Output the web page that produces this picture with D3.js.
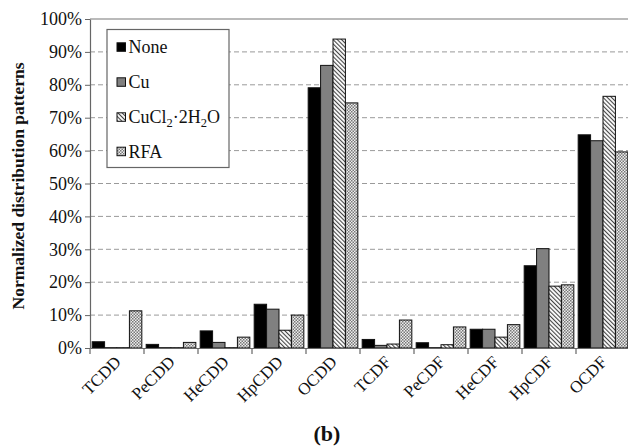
<!DOCTYPE html>
<html><head><meta charset="utf-8">
<script src="https://cdn.jsdelivr.net/npm/d3@7"></script>
<style>body{margin:0;background:#fff}svg{display:block}</style>
</head><body>
<svg id="c" width="628" height="446" font-family="Liberation Serif, Times New Roman, serif"></svg>
<script>
const categories = ["TCDD","PeCDD","HeCDD","HpCDD","OCDD","TCDF","PeCDF","HeCDF","HpCDF","OCDF"];
const seriesNames = ["None","Cu","CuCl2·2H2O","RFA"];
const noneVals  = [1.9, 1.1, 5.2, 13.3, 79.1, 2.6, 1.6, 5.7, 25.0, 64.8];
const cuVals    = [0.1, 0.1, 1.7, 11.8, 85.9, 0.8, 0.1, 5.7, 30.2, 63.0];
const cuclVals  = [0.1, 0.1, 0.1, 5.4, 93.9, 1.2, 1.0, 3.3, 18.8, 76.5];
const rfaVals   = [11.3, 1.7, 3.3, 10.0, 74.5, 8.5, 6.4, 7.1, 19.2, 59.6];
const yTicks = [0,10,20,30,40,50,60,70,80,90,100];

const FONT = "Liberation Serif";
const series = [noneVals, cuVals, cuclVals, rfaVals];
const svg = d3.select("#c");
const defs = svg.append("defs");
const ph = defs.append("pattern").attr("id","hatch").attr("patternUnits","userSpaceOnUse")
  .attr("width",3).attr("height",3).attr("patternTransform","rotate(-45)");
ph.append("rect").attr("width",3).attr("height",3).attr("fill","#fff");
ph.append("rect").attr("x",0).attr("width",1.1).attr("height",3).attr("fill","#444");
const pc = defs.append("pattern").attr("id","check").attr("patternUnits","userSpaceOnUse")
  .attr("width",3).attr("height",3);
pc.append("rect").attr("width",3).attr("height",3).attr("fill","#eee");
pc.append("rect").attr("width",1.5).attr("height",1.5).attr("fill","#777");
pc.append("rect").attr("x",1.5).attr("y",1.5).attr("width",1.5).attr("height",1.5).attr("fill","#777");

const fills = ["#000","#808080","url(#hatch)","url(#check)"];

const L = 90, R = 630, T = 19, B = 348;
const x = d3.scaleBand().domain(categories).range([L,R]).paddingInner(0).paddingOuter(0);
const xs = d3.scaleBand().domain(d3.range(4)).range([0,x.bandwidth()]).paddingOuter(0.175).paddingInner(0);
const y = d3.scaleLinear().domain([0,100]).range([B,T]);

svg.append("g").selectAll("line").data(yTicks.filter(d=>d>0&&d<100)).join("line")
  .attr("x1",L).attr("x2",R).attr("y1",d=>y(d)).attr("y2",d=>y(d))
  .attr("stroke","#9a9a9a").attr("stroke-width",1).attr("stroke-dasharray","5,3");
svg.append("line").attr("x1",L).attr("x2",R).attr("y1",y(100)).attr("y2",y(100)).attr("stroke","#777").attr("stroke-width",1.2);

categories.forEach((c,i)=>{
  series.forEach((s,j)=>{
    svg.append("rect").attr("x",x(c)+xs(j)).attr("width",xs.bandwidth())
      .attr("y",y(s[i])).attr("height",B-y(s[i]))
      .attr("fill",fills[j]).attr("stroke","#111").attr("stroke-width",1);
  });
});

const ya = svg.append("g").attr("transform",`translate(${L},0)`)
  .call(d3.axisLeft(y).tickValues(yTicks).tickFormat(d=>d+"%").tickSize(5).tickSizeOuter(0));
ya.attr("font-family",FONT).attr("font-size",18);
ya.select(".domain").attr("stroke","#666").attr("stroke-width",1.2);
ya.selectAll(".tick line").attr("stroke","#666");
ya.selectAll("text").attr("fill","#111").attr("x",-8);

const xa = svg.append("g").attr("transform",`translate(0,${B})`)
  .call(d3.axisBottom(x).tickSize(0).tickSizeOuter(0).tickFormat(""));
xa.select(".domain").attr("stroke","#666").attr("stroke-width",1.2);
svg.append("g").attr("font-family",FONT).attr("font-size",17)
  .selectAll("text").data(categories).join("text")
  .attr("transform",d=>`translate(${x(d)+x.bandwidth()/2+5},${B+15}) rotate(-45)`)
  .attr("text-anchor","end").attr("fill","#111").text(d=>d);
svg.append("g").selectAll("line").data(d3.range(categories.length+1)).join("line")
  .attr("x1",i=>L+i*x.bandwidth()).attr("x2",i=>L+i*x.bandwidth())
  .attr("y1",B).attr("y2",B+6).attr("stroke","#666").attr("stroke-width",1.2);

svg.append("text").attr("transform","translate(24,186) rotate(-90)").attr("font-family",FONT)
  .attr("text-anchor","middle").attr("font-size",17.5).attr("font-weight","bold").attr("fill","#111")
  .text("Normalized distribution patterns");

svg.append("text").attr("x",327).attr("y",441).attr("text-anchor","middle").attr("font-family",FONT)
  .attr("font-size",22).attr("font-weight","bold").attr("fill","#111").text("(b)");

const lg = svg.append("g").attr("font-family",FONT);
lg.append("rect").attr("x",107).attr("y",29.5).attr("width",122).attr("height",138)
  .attr("fill","#fff").attr("stroke","#666").attr("stroke-width",1.2);
const ly = [47.3, 82.3, 117.3, 151.7];
seriesNames.forEach((n,j)=>{
  lg.append("rect").attr("x",117).attr("y",ly[j]-4.5).attr("width",8.5).attr("height",8.5)
    .attr("fill",fills[j]).attr("stroke","#111").attr("stroke-width",1);
  const t = lg.append("text").attr("x",128.5).attr("y",ly[j]+6).attr("font-size",18).attr("fill","#111");
  if (j===2) {
    t.append("tspan").text("CuCl");
    t.append("tspan").attr("font-size",12.5).attr("dy",4).text("2");
    t.append("tspan").attr("dy",-4).text("·2H");
    t.append("tspan").attr("font-size",12.5).attr("dy",4).text("2");
    t.append("tspan").attr("dy",-4).text("O");
  } else t.text(n);
});
</script>
</body></html>
